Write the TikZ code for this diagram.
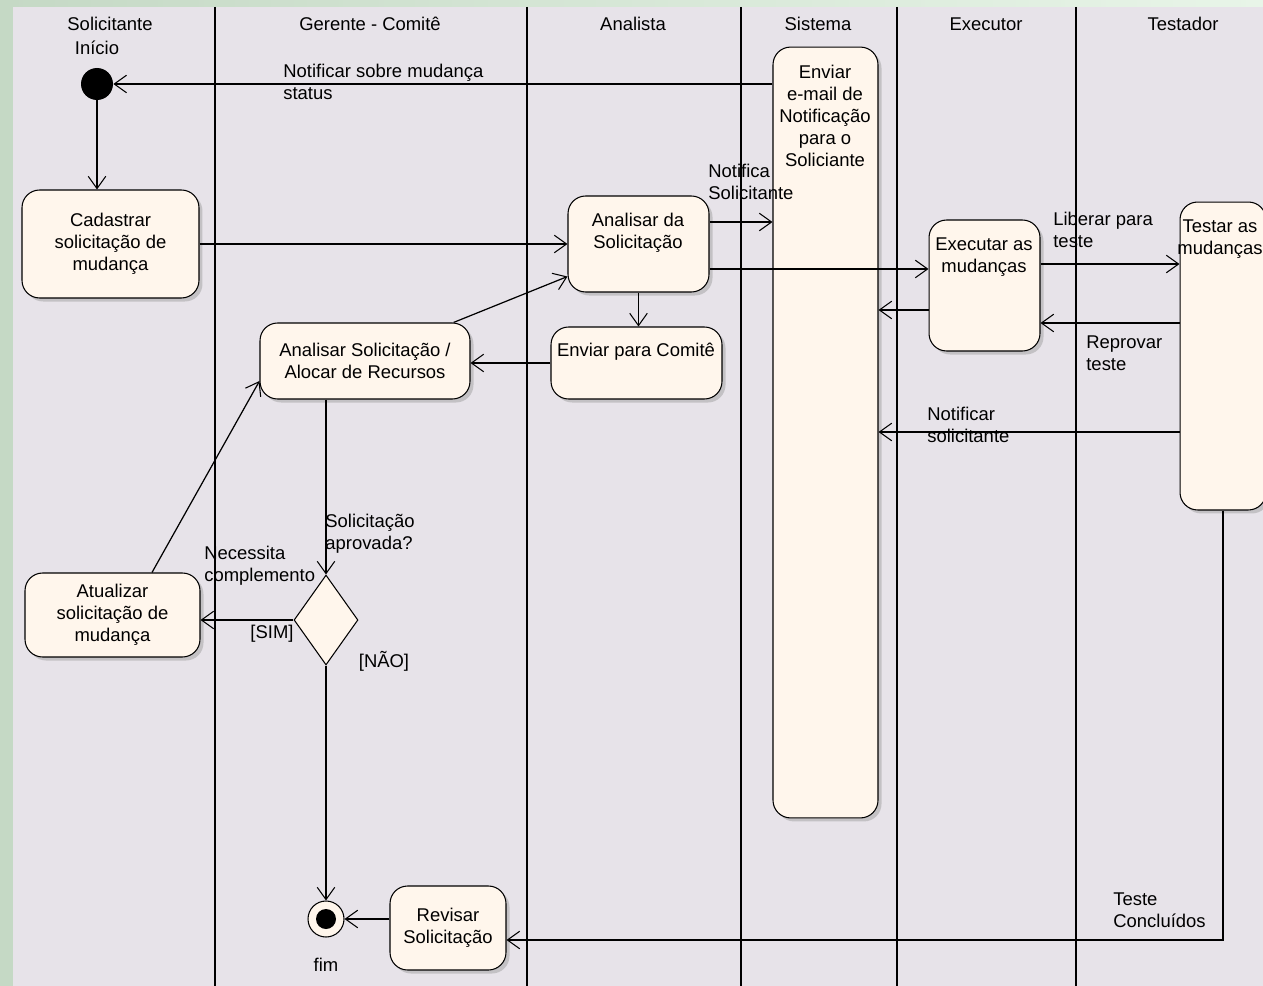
\documentclass[tikz,border=0pt]{standalone}
\usepackage{fontspec}
\setmainfont{Liberation Sans}
\usetikzlibrary{arrows.meta,shapes.geometric,shadows}
\definecolor{bggreen}{RGB}{197,217,197}
\definecolor{topgreen}{RGB}{232,245,232}
\definecolor{lanebg}{RGB}{231,227,233}
\definecolor{actfill}{RGB}{255,246,236}
\tikzset{
	act/.style={draw, fill=actfill, rounded corners=10pt, line width=0.6pt, inner sep=0pt,
		align=center, drop shadow={shadow xshift=2pt, shadow yshift=-2pt, fill=black!40, opacity=0.45}},
	dec/.style={diamond, draw, fill=actfill, line width=0.6pt, inner sep=0pt,
		minimum width=1.28cm, minimum height=1.8cm},
	boxtxt/.style={align=center, inner sep=0pt},
	flow/.style={line width=0.7pt, -{Straight Barb[length=7pt,width=10pt,line width=0.6pt]}},
	lbl/.style={anchor=west, align=left, inner sep=0pt},
	head/.style={inner sep=0pt},
	lane/.style={line width=1pt}
}

\begin{document}
\begin{tikzpicture}[x=0.02cm, y=-0.02cm, font=\fontsize{10.5}{12.5}\selectfont]
	%%%%% START %%%%%
	\useasboundingbox (0,0) rectangle (1263,986);
	\clip (0,0) rectangle (1263,986);
	
	\fill[bggreen] (0,0) rectangle (1263,986);
	\shade[left color=bggreen, right color=topgreen] (0,0) rectangle (1263,7);
	\fill[lanebg] (13,7) rectangle (1263,986);
	
	\foreach \x in {215,527,741,897,1076}
		\draw[lane] (\x,7) -- (\x,986);
	
	\node[head] (hsol) at (110,24) {Solicitante};
	\node[head] (hger) at (370,24) {Gerente - Comitê};
	\node[head] (hana) at (633,24) {Analista};
	\node[head] (hsis) at (818,24) {Sistema};
	\node[head] (hexe) at (986,24) {Executor};
	\node[head] (htes) at (1183,24) {Testador};
	
	\node[head] (tini) at (97,48) {Início};
	\node[circle, fill=black, minimum size=0.64cm, inner sep=0pt] (ini) at (97,84) {};
	
	\node[act, minimum width=3.54cm, minimum height=2.16cm] (cad) at (110.5,244) {Cadastrar\\solicitação de\\mudança};
	\node[act, minimum width=2.82cm, minimum height=1.92cm] (ana) at (638.5,244) {};
	\node[boxtxt] (anat) at (638,233) {Analisar da\\Solicitação};
	\node[act, minimum width=2.1cm, minimum height=15.42cm] (sis) at (825.5,432.5) {};
	\node[boxtxt] (sist) at (825,116) {Enviar\\e-mail de\\Notificação\\para o\\Soliciante};
	\node[act, minimum width=3.42cm, minimum height=1.44cm] (com) at (636.5,363) {};
	\node[boxtxt] (comt) at (636,352) {Enviar para Comitê};
	\node[act, minimum width=4.2cm, minimum height=1.52cm] (alo) at (365,361) {Analisar Solicitação /\\Alocar de Recursos};
	\node[act, minimum width=2.22cm, minimum height=2.62cm] (exe) at (984.5,285.5) {};
	\node[boxtxt] (exet) at (984,257) {Executar as\\mudanças};
	\node[act, minimum width=1.72cm, minimum height=6.16cm] (tes) at (1223,356) {};
	\node[boxtxt] (test) at (1220,239) {Testar as\\mudanças};
	
	\node[dec] (dia) at (326,620) {};
	\node[act, minimum width=3.5cm, minimum height=1.68cm] (atu) at (112.5,615) {Atualizar\\solicitação de\\mudança};
	\node[act, minimum width=2.32cm, minimum height=1.68cm] (rev) at (448,928) {Revisar\\Solicitação};
	
	\node[draw, circle, fill=actfill, line width=0.6pt, minimum size=0.72cm, inner sep=0pt] (fim) at (326,919) {};
	\node[circle, fill=black, minimum size=0.4cm, inner sep=0pt] (fimin) at (fim) {};
	\node[head] (tfim) at (326,965) {fim};
	
	\draw[flow] (ini -| sis.west) -- (ini);
	\node[lbl] (lnot) at (283,82) {Notificar sobre mudança\\status};
	\draw[flow] (ini) -- (ini |- cad.north);
	\draw[flow] (cad) -- (ana);
	
	\draw[flow] ([yshift=0.44cm]ana.east) -- ([yshift=0.44cm]ana.east -| sis.west);
	\node[lbl] (lnsol) at (708,182) {Notifica\\Solicitante};
	\draw[flow] ([yshift=-0.5cm]ana.east) -- ([yshift=-0.5cm]ana.east -| exe.west);
	\draw[flow] (ana.south) -- (ana.south |- com.north);
	\draw[flow] (com.west) -- (com.west -| alo.east);
	\draw[flow] ([xshift=-0.34cm]alo.north east) -- ([yshift=0.32cm]ana.south west);
	
	\draw[flow] (dia |- alo.south) -- (dia.north);
	\node[lbl] (lapr) at (325,534) {Solicitação\\aprovada?};
	\draw[flow] (dia.west) -- (dia.west -| atu.east);
	\node[lbl] (lnec) at (204,566) {Necessita\\complemento};
	\node[head] (lsim) at (272,634) {[SIM]};
	\node[head] (lnao) at (384,661) {[NÃO]};
	\draw[flow] ([xshift=0.79cm]atu.north) -- ([yshift=-0.4cm]alo.west);
	\draw[flow] (dia.south) -- (fim);
	\draw[flow] (rev.west |- fim) -- (fim);
	
	\draw[flow] ([yshift=-0.49cm]exe.west) -- ([yshift=-0.49cm]exe.west -| sis.east);
	\draw[flow] ([yshift=0.43cm]exe.east) -- ([yshift=0.43cm]exe.east -| tes.west);
	\node[lbl] (llib) at (1053,230) {Liberar para\\teste};
	\draw[flow] ([yshift=0.66cm]tes.west) -- ([yshift=0.66cm]tes.west -| exe.east);
	\node[lbl] (lrep) at (1086,353) {Reprovar\\teste};
	\draw[flow] ([yshift=-1.52cm]tes.west) -- ([yshift=-1.52cm]tes.west -| sis.east);
	\node[lbl] (lnsol2) at (927,425) {Notificar\\solicitante};
	\draw[flow] (tes.south) |- ([yshift=-0.24cm]rev.east);
	\node[lbl] (lcon) at (1113,910) {Teste\\Concluídos};
	
	%%%%% END %%%%%
\end{tikzpicture}
\end{document}
